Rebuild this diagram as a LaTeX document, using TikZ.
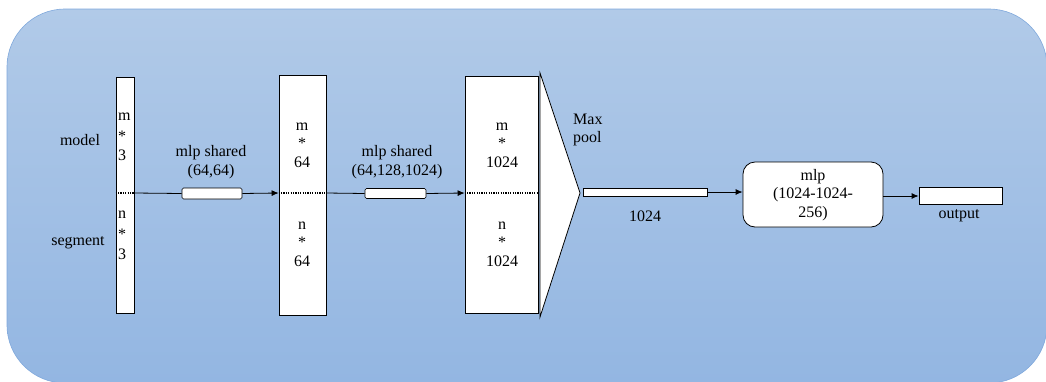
\documentclass[tikz,border=0pt]{standalone}
\usepackage{fontspec}
\setmainfont{Liberation Serif}
\usetikzlibrary{arrows.meta}
\definecolor{bgtop}{HTML}{B1CAE8}
\definecolor{bgbot}{HTML}{93B6E2}
\definecolor{bgline}{HTML}{7FA8DC}
\begin{document}
\begin{tikzpicture}[x=1pt,y=-1pt,
  every node/.style={font=\fontsize{16}{18.5}\selectfont, inner sep=0pt},
  blk/.style={draw=black, fill=white, line width=0.8pt},
  thin blk/.style={draw=black, fill=white, line width=0.6pt, rounded corners=1.5pt},
  lbl/.style={align=center},
  conn/.style={line width=0.8pt},
  arr/.style={conn, -{Latex[length=7pt,width=6pt]}},
  dots/.style={line width=1.2pt, dash pattern=on 1.2pt off 1.2pt}]
\useasboundingbox (0,0) rectangle (1046,381);
\shade[top color=bgtop, bottom color=bgbot, draw=bgline, line width=0.6pt, rounded corners=58pt]
  (7,9) rectangle (1047,383);

% blocks
\node[blk, minimum width=18pt, minimum height=236pt] (in) at (125,195) {};
\node[blk, minimum width=47pt, minimum height=240pt] (b2) at (302.5,195) {};
\node[blk, minimum width=73pt, minimum height=237pt] (b3) at (501.5,194.5) {};
\draw[blk] (540,73) coordinate (t1) -- (580,193) coordinate (tip) -- (540,317) coordinate (t2) -- cycle;
\node[blk, minimum width=124pt, minimum height=8pt] (bar) at (645,192) {};
\node[blk, rounded corners=12pt, minimum width=140pt, minimum height=65pt] (mlp) at (813,194.5) {};
\node[blk, minimum width=83pt, minimum height=17pt] (out) at (960.5,195.5) {};

% dotted separators
\draw[dots] (in.west|-0,193) -- (in.east|-0,193);
\draw[dots] (b2.west|-0,193) -- (b2.east|-0,193);
\draw[dots] (b3.west|-0,193) -- (b3.east|-0,193);

% small mlp blocks on connectors
\node[thin blk, minimum width=60pt, minimum height=11pt] (r1) at (212,193.5) {};
\node[thin blk, minimum width=61pt, minimum height=10pt] (r2) at (395.5,193.5) {};

% connectors
\draw[conn] (in.east|-0,193) -- (r1.west);
\draw[arr] (r1.east) -- (b2.west|-0,193);
\draw[conn] (b2.east|-0,193) -- (r2.west);
\draw[arr] (r2.east) -- (b3.west|-0,193);
\draw[arr] (bar.east) -- (mlp.west|-bar.east);
\draw[arr] (mlp.east|-0,196) -- (out.west|-0,196);

% labels
\node (model) at (80,140) {model};
\node (segment) at (78,243) {segment};
\node[anchor=west] (im) at (118,117) {m};
\node[anchor=west] (is) at (118,136) {*};
\node[anchor=west] (i3) at (118,155) {3};
\node[anchor=west] (inn) at (118,215) {n};
\node[anchor=west] (ins) at (118,234) {*};
\node[anchor=west] (in3) at (118,254) {3};
\node[lbl] (l1) at (211,162) {mlp shared\\(64,64)};
\node[lbl] (l2) at (397,162) {mlp shared\\(64,128,1024)};
\node[lbl] (b2t) at (302,145) {m\\*\\64};
\node[lbl] (b2b) at (302,244) {n\\*\\64};
\node[lbl] (b3t) at (502,145) {m\\*\\1024};
\node[lbl] (b3b) at (502,244) {n\\*\\1024};
\node[align=left, anchor=west] (mp) at (573,130) {Max\\pool};
\node (l1024) at (645,216) {1024};
\node[lbl] (mlpt) at (813,195) {mlp\\(1024-1024-\\256)};
\node (outl) at (959,216) {output};
\end{tikzpicture}
\end{document}
